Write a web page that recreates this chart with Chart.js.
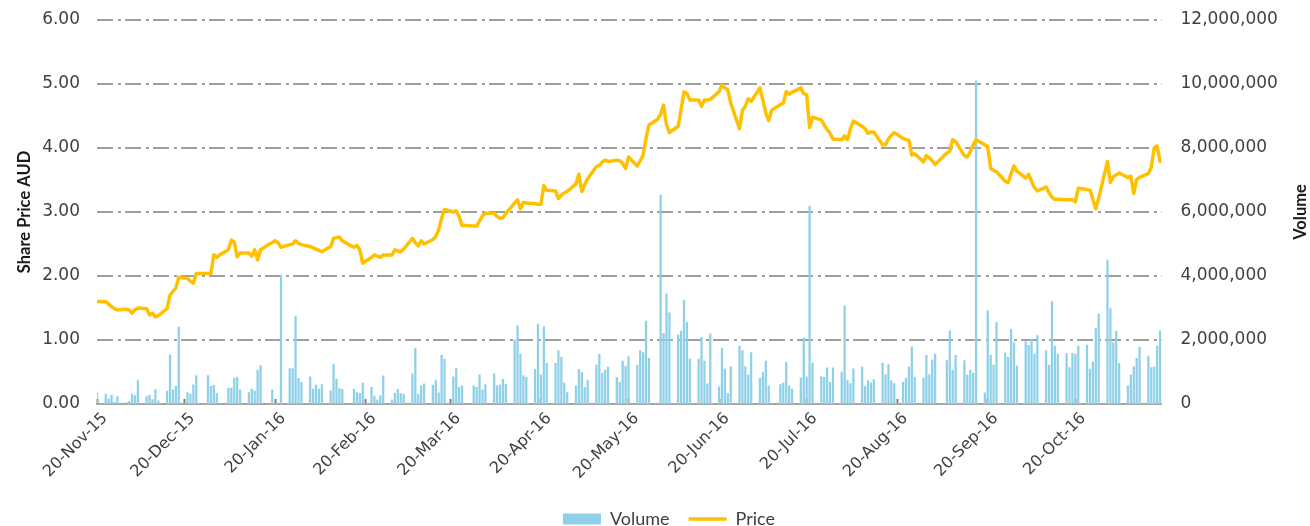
<!DOCTYPE html>
<html>
<head>
<meta charset="utf-8">
<script src="https://cdn.jsdelivr.net/npm/chart.js@4.4.1/dist/chart.umd.min.js"></script>
<style>
html,body{margin:0;padding:0;background:#ffffff;}
#wrap{width:1310px;height:526px;position:relative;}
</style>
</head>
<body>
<div id="wrap"><canvas id="c"></canvas></div>
<script>
// Trading days (categories)
const dates = [
"2015-11-20",
"2015-11-23","2015-11-24","2015-11-25","2015-11-26","2015-11-27",
"2015-11-30","2015-12-01","2015-12-02","2015-12-03","2015-12-04",
"2015-12-07","2015-12-08","2015-12-09","2015-12-10","2015-12-11",
"2015-12-14","2015-12-15","2015-12-16","2015-12-17","2015-12-18",
"2015-12-21","2015-12-22","2015-12-23","2015-12-24","2015-12-25",
"2015-12-28","2015-12-29","2015-12-30","2015-12-31","2016-01-01",
"2016-01-04","2016-01-05","2016-01-06","2016-01-07","2016-01-08",
"2016-01-11","2016-01-12","2016-01-13","2016-01-14","2016-01-15",
"2016-01-18","2016-01-19","2016-01-20","2016-01-21","2016-01-22",
"2016-01-25","2016-01-26","2016-01-27","2016-01-28","2016-01-29",
"2016-02-01","2016-02-02","2016-02-03","2016-02-04","2016-02-05",
"2016-02-08","2016-02-09","2016-02-10","2016-02-11","2016-02-12",
"2016-02-15","2016-02-16","2016-02-17","2016-02-18","2016-02-19",
"2016-02-22","2016-02-23","2016-02-24","2016-02-25","2016-02-26",
"2016-02-29","2016-03-01","2016-03-02","2016-03-03","2016-03-04",
"2016-03-07","2016-03-08","2016-03-09","2016-03-10","2016-03-11",
"2016-03-14","2016-03-15","2016-03-16","2016-03-17","2016-03-18",
"2016-03-21","2016-03-22","2016-03-23","2016-03-24","2016-03-25",
"2016-03-28","2016-03-29","2016-03-30","2016-03-31","2016-04-01",
"2016-04-04","2016-04-05","2016-04-06","2016-04-07","2016-04-08",
"2016-04-11","2016-04-12","2016-04-13","2016-04-14","2016-04-15",
"2016-04-18","2016-04-19","2016-04-20","2016-04-21","2016-04-22",
"2016-04-25","2016-04-26","2016-04-27","2016-04-28","2016-04-29",
"2016-05-02","2016-05-03","2016-05-04","2016-05-05","2016-05-06",
"2016-05-09","2016-05-10","2016-05-11","2016-05-12","2016-05-13",
"2016-05-16","2016-05-17","2016-05-18","2016-05-19","2016-05-20",
"2016-05-23","2016-05-24","2016-05-25","2016-05-26","2016-05-27",
"2016-05-30","2016-05-31","2016-06-01","2016-06-02","2016-06-03",
"2016-06-06","2016-06-07","2016-06-08","2016-06-09","2016-06-10",
"2016-06-13","2016-06-14","2016-06-15","2016-06-16","2016-06-17",
"2016-06-20","2016-06-21","2016-06-22","2016-06-23","2016-06-24",
"2016-06-27","2016-06-28","2016-06-29","2016-06-30","2016-07-01",
"2016-07-04","2016-07-05","2016-07-06","2016-07-07","2016-07-08",
"2016-07-11","2016-07-12","2016-07-13","2016-07-14","2016-07-15",
"2016-07-18","2016-07-19","2016-07-20","2016-07-21","2016-07-22",
"2016-07-25","2016-07-26","2016-07-27","2016-07-28","2016-07-29",
"2016-08-01","2016-08-02","2016-08-03","2016-08-04","2016-08-05",
"2016-08-08","2016-08-09","2016-08-10","2016-08-11","2016-08-12",
"2016-08-15","2016-08-16","2016-08-17","2016-08-18","2016-08-19",
"2016-08-22","2016-08-23","2016-08-24","2016-08-25","2016-08-26",
"2016-08-29","2016-08-30","2016-08-31","2016-09-01","2016-09-02",
"2016-09-05","2016-09-06","2016-09-07","2016-09-08","2016-09-09",
"2016-09-12","2016-09-13","2016-09-14","2016-09-15","2016-09-16",
"2016-09-19","2016-09-20","2016-09-21","2016-09-22","2016-09-23",
"2016-09-26","2016-09-27","2016-09-28","2016-09-29","2016-09-30",
"2016-10-03","2016-10-04","2016-10-05","2016-10-06","2016-10-07",
"2016-10-10","2016-10-11","2016-10-12","2016-10-13","2016-10-14",
"2016-10-17","2016-10-18","2016-10-19","2016-10-20","2016-10-21",
"2016-10-24","2016-10-25","2016-10-26","2016-10-27","2016-10-28",
"2016-10-31","2016-11-01","2016-11-02","2016-11-03","2016-11-04",
"2016-11-07","2016-11-08","2016-11-09","2016-11-10","2016-11-11",
"2016-11-14","2016-11-15","2016-11-16","2016-11-17","2016-11-18"
];

// Share price (AUD)
const price = [
1.60,
1.60,1.56,1.52,1.49,1.47,
1.48,1.47,1.42,1.47,1.50,
1.49,1.39,1.42,1.36,1.38,
1.49,1.70,1.76,1.81,1.98,
1.96,1.92,1.89,2.04,2.04,
2.04,2.04,2.33,2.29,2.33,
2.41,2.56,2.53,2.30,2.36,
2.36,2.31,2.41,2.25,2.41,
2.50,2.52,2.55,2.52,2.45,
2.49,2.50,2.55,2.51,2.49,
2.46,2.44,2.42,2.40,2.38,
2.46,2.59,2.60,2.61,2.55,
2.47,2.45,2.48,2.41,2.20,
2.29,2.33,2.31,2.29,2.33,
2.33,2.41,2.39,2.38,2.42,
2.59,2.52,2.47,2.55,2.50,
2.57,2.62,2.72,2.90,3.04,
3.00,3.02,2.93,2.79,2.79,
2.78,2.78,2.86,2.94,2.98,
2.98,2.93,2.90,2.91,2.98,
3.14,3.19,3.05,3.15,3.14,
3.13,3.12,3.12,3.41,3.34,
3.33,3.21,3.26,3.30,3.32,
3.44,3.59,3.32,3.43,3.52,
3.71,3.73,3.78,3.81,3.79,
3.81,3.80,3.76,3.68,3.86,
3.72,3.80,3.89,4.15,4.36,
4.45,4.53,4.67,4.36,4.24,
4.34,4.60,4.88,4.85,4.75,
4.75,4.65,4.75,4.75,4.76,
4.88,4.98,4.94,4.91,4.70,
4.30,4.59,4.65,4.77,4.73,
4.94,4.75,4.55,4.43,4.59,
4.68,4.70,4.88,4.84,4.87,
4.94,4.85,4.83,4.32,4.48,
4.44,4.36,4.29,4.23,4.14,
4.13,4.19,4.13,4.30,4.42,
4.34,4.30,4.23,4.25,4.25,
4.05,4.05,4.14,4.20,4.24,
4.15,4.13,4.12,3.89,3.91,
3.78,3.88,3.85,3.80,3.74,
3.88,3.92,3.95,4.13,4.10,
3.88,3.86,3.94,4.05,4.13,
4.05,4.02,3.68,3.65,3.63,
3.48,3.46,3.60,3.72,3.64,
3.53,3.59,3.48,3.38,3.33,
3.39,3.30,3.23,3.20,3.20,
3.19,3.19,3.19,3.16,3.37,
3.35,3.34,3.20,3.05,3.22,
3.79,3.46,3.55,3.58,3.61,
3.54,3.56,3.29,3.51,3.54,
3.60,3.70,4.00,4.03,3.79
];

// Daily volume (shares)
const volume = [
330000,
310000,160000,280000,50000,230000,
50000,80000,310000,260000,730000,
230000,280000,140000,450000,100000,
400000,1540000,450000,550000,2400000,
360000,310000,600000,890000,0,
890000,550000,580000,330000,0,
500000,500000,810000,830000,440000,
360000,470000,400000,1060000,1200000,
0,440000,0,0,4030000,
1110000,1110000,2730000,800000,680000,
850000,470000,590000,470000,610000,
410000,1250000,770000,490000,460000,
0,460000,360000,330000,650000,
520000,250000,130000,260000,880000,
130000,330000,460000,330000,300000,
940000,1740000,300000,570000,630000,
590000,750000,350000,1530000,1400000,
850000,1110000,520000,570000,0,
570000,520000,910000,440000,610000,
940000,570000,590000,770000,620000,
2000000,2440000,1560000,890000,830000,
1080000,2500000,910000,2420000,1270000,
1270000,1670000,1460000,650000,360000,
570000,1080000,990000,520000,750000,
1220000,1550000,960000,1060000,1150000,
830000,680000,1340000,1180000,1480000,
1220000,1670000,1610000,2590000,1430000,
0,6530000,2210000,3440000,2850000,
2160000,2280000,3240000,2550000,1400000,
1400000,2080000,1340000,630000,2190000,
540000,1740000,1090000,330000,1170000,
1810000,1670000,1170000,910000,1610000,
800000,980000,1340000,570000,0,
610000,650000,1300000,560000,470000,
820000,2060000,850000,6180000,1280000,
860000,830000,1130000,680000,1130000,
1000000,3070000,730000,640000,1100000,
1150000,550000,730000,660000,760000,
1280000,920000,1230000,730000,640000,
680000,810000,1160000,1780000,840000,
810000,1520000,920000,1380000,1560000,
0,1360000,2290000,1050000,1520000,
1360000,900000,1050000,970000,10100000,
350000,2920000,1530000,1220000,2550000,
1600000,1460000,2330000,1920000,1190000,
1950000,1830000,2030000,1560000,2140000,
1670000,1220000,3200000,1810000,1560000,
1580000,1140000,1580000,1560000,1810000,
1840000,1090000,1320000,2360000,2810000,
4500000,2980000,1920000,2280000,1270000,
570000,910000,1170000,1430000,1780000,
1500000,1140000,1150000,1810000,2280000
];

// X-axis tick labels
const tickLabels = ["20-Nov-15","20-Dec-15","20-Jan-16","20-Feb-16","20-Mar-16","20-Apr-16",
  "20-May-16","20-Jun-16","20-Jul-16","20-Aug-16","20-Sep-16","20-Oct-16"];

const MONTHS = {Jan:0,Feb:1,Mar:2,Apr:3,May:4,Jun:5,Jul:6,Aug:7,Sep:8,Oct:9,Nov:10,Dec:11};
function isoDay(s){ const p = s.split('-').map(Number); return Date.UTC(p[0], p[1]-1, p[2]) / 86400000; }
const day0 = isoDay(dates[0]);
const xDays = dates.map(d => isoDay(d) - day0);
function labelDay(l){ const p = l.split('-'); return Date.UTC(2000 + Number(p[2]), MONTHS[p[1]], Number(p[0])) / 86400000 - day0; }
const tickDays = tickLabels.map(labelDay);
const lastDay = xDays[xDays.length - 1];

const tickFont = {family: 'DejaVu Sans', size: 17};
const tickColor = '#404040';

const rightTitle = {
  id: 'rightTitle',
  afterDraw(chart) {
    const s = chart.scales.y1, ca = chart.chartArea, ctx = chart.ctx;
    ctx.save();
    ctx.font = 'bold 16.5px Lato';
    ctx.fillStyle = '#1a1a1a';
    ctx.textAlign = 'center';
    ctx.textBaseline = 'middle';
    ctx.translate(s.right - 9, (ca.top + ca.bottom) / 2);
    ctx.rotate(-Math.PI / 2);
    ctx.fillText('Volume', 0, 0);
    ctx.restore();
  }
};

new Chart(document.getElementById('c'), {
  type: 'bar',
  data: {
    datasets: [
      {
        type: 'bar', label: 'Volume',
        data: xDays.map((x, i) => ({x: x, y: volume[i]})),
        xAxisID: 'x', yAxisID: 'y1',
        backgroundColor: '#8FD0E9', borderWidth: 0,
        barThickness: 1.6, grouped: false, order: 1, pointStyle: 'rect'
      },
      {
        type: 'line', label: 'Price',
        data: xDays.map((x, i) => ({x: x, y: price[i]})),
        xAxisID: 'x', yAxisID: 'y',
        borderColor: '#FFC000', backgroundColor: '#FFC000', borderWidth: 3.5,
        pointRadius: 0, pointHoverRadius: 0, pointBorderWidth: 3.5, pointBorderColor: '#FFC000',
        pointStyle: 'line', tension: 0, borderJoinStyle: 'round', borderCapStyle: 'round', order: 0
      }
    ]
  },
  options: {
    responsive: true, maintainAspectRatio: false, animation: false, devicePixelRatio: 1,
    layout: {padding: {left: 28, right: 0, top: 20, bottom: -12}},
    plugins: {
      legend: {
        position: 'bottom',
        labels: {
          usePointStyle: true, pointStyleWidth: 38, boxHeight: 11, padding: 19,
          color: '#404040', font: {family: 'Lato', size: 18},
          sort: (a, b) => a.datasetIndex - b.datasetIndex
        }
      },
      tooltip: {enabled: false}
    },
    scales: {
      x: {
        type: 'linear', position: 'bottom', min: 0, max: lastDay + 0.5, offset: false,
        afterBuildTicks: s => { s.ticks = tickDays.map(v => ({value: v})); },
        afterFit: s => { s.height = 87; },
        ticks: {
          autoSkip: false, minRotation: 45, maxRotation: 45, padding: 10, labelOffset: 8,
          color: tickColor, font: {family: 'DejaVu Sans', size: 16},
          callback: (v, i) => tickLabels[i]
        },
        grid: {display: true, offset: false, drawOnChartArea: false, drawTicks: true, tickLength: -5, tickWidth: 2, tickColor: '#7f7f7f'},
        border: {display: true, color: '#a6a6a6', width: 2}
      },
      y: {
        position: 'left', min: 0, max: 6,
        afterFit: s => { s.width = 69; s.paddingTop = 0; s.paddingBottom = 0; },
        ticks: {stepSize: 1, padding: 17, color: tickColor, font: tickFont, callback: v => Number(v).toFixed(2)},
        grid: {color: '#a0a0a0', lineWidth: 2, drawTicks: false},
        border: {display: false, dash: [16, 5, 3, 4]},
        title: {display: true, text: 'Share Price AUD', color: '#1a1a1a',
          font: {family: 'Lato', size: 16.5, weight: 'bold'}, padding: {top: -13, bottom: 0}}
      },
      y1: {
        position: 'right', min: 0, max: 12000000,
        afterFit: s => { s.width = 148.5; s.paddingTop = 0; s.paddingBottom = 0; },
        ticks: {stepSize: 2000000, padding: 19, color: tickColor, font: tickFont,
          callback: v => Number(v).toLocaleString('en-US')},
        grid: {display: false, drawTicks: false},
        border: {display: false}
      }
    }
  },
  plugins: [rightTitle]
});
</script>
</body>
</html>
